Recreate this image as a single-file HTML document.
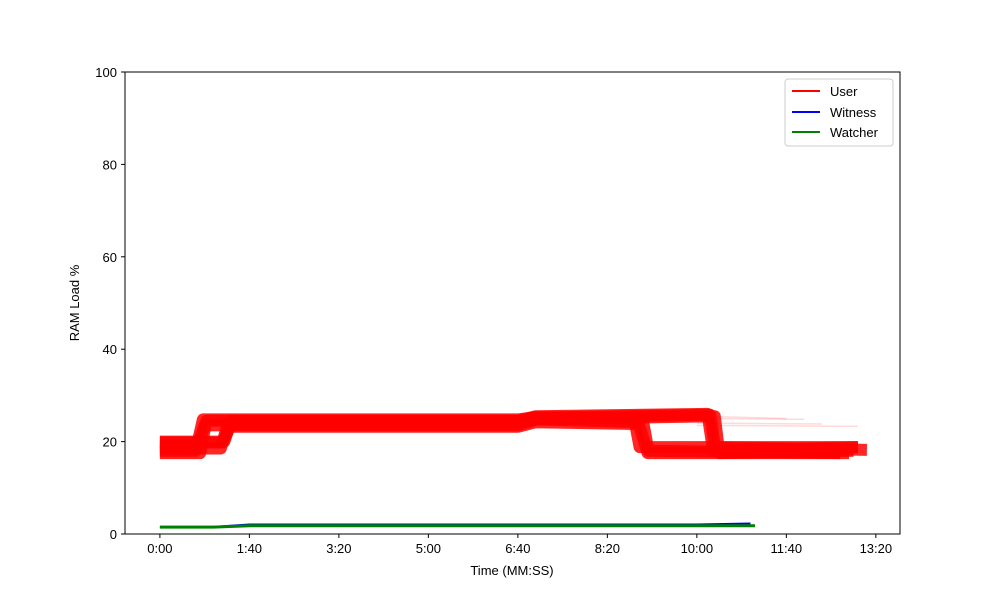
<!DOCTYPE html>
<html><head><meta charset="utf-8"><style>
body{margin:0;background:#fff;font-family:"Liberation Sans","DejaVu Sans",sans-serif}
svg text{font-family:"Liberation Sans","DejaVu Sans",sans-serif;font-size:13px;fill:#000}
</style></head><body>
<svg id="chart" width="1000" height="600" viewBox="0 0 1000 600">
<rect width="1000" height="600" fill="#fff"/>
<g id="plot"></g>
<g id="axes"></g>
<g id="legend">
<rect x="785" y="79" width="108" height="67" fill="#fff" stroke="#ccc" rx="3"/>
<line x1="792" y1="91" x2="820" y2="91" stroke="#f00" stroke-width="2"/>
<text x="830" y="96">User</text>
<line x1="792" y1="112" x2="820" y2="112" stroke="#00f" stroke-width="2"/>
<text x="830" y="117">Witness</text>
<line x1="792" y1="132" x2="820" y2="132" stroke="#008000" stroke-width="2"/>
<text x="830" y="137">Watcher</text>
</g>
</svg>
<script>
const xTicks=[0,100,200,300,400,500,600,700,800];
const xTickLabels=["0:00","1:40","3:20","5:00","6:40","8:20","10:00","11:40","13:20"];
const yTicks=[0,20,40,60,80,100];
const userTimes=[
 [0,40,48,400,420,530,536,780],
 [0,70,78,400,420,535,545,770],
 [0,45,52,400,420,615,620,790],
 [0,72,80,400,420,612,618,780],
 [0,42,50,400,420,540,546,760],
 [0,68,76,400,420,620,625,775]
];
const userValues=[
 [18,18,24.8,24.8,25.3,25,18.8,18.8],
 [19.8,19.8,23.2,23.2,24.2,23.8,17.5,17.5],
 [17.5,17.5,24.5,24.5,25.2,25.8,18.8,18.2],
 [20,20,24.5,24.5,25.5,26,18,18.8],
 [19,19,23.5,23.5,24.8,24.2,18,17.5],
 [18.5,18.5,24,24,24.8,25.5,17.5,18]
];
const faintTimes=[[600,720],[600,740],[600,700],[600,780]];
const faintValues=[[25,24.8],[24,23.8],[25.5,25],[23.5,23.3]];
const witnessTimes=[0,60,100,600,660];
const witnessValues=[1.5,1.5,2,2,2.2];
const watcherTimes=[0,60,100,600,665];
const watcherValues=[1.5,1.5,1.8,1.8,1.8];
const X0=125,X1=900,Y0=534,Y1=72,TMIN=-39,TMAX=827;
const xs=t=>X0+(t-TMIN)/(TMAX-TMIN)*(X1-X0);
const ys=v=>Y0-v/100*(Y0-Y1);
const NS="http://www.w3.org/2000/svg";
const plot=document.getElementById('plot'),axes=document.getElementById('axes');
function mk(tag,attrs,parent){const e=document.createElementNS(NS,tag);for(const k in attrs)e.setAttribute(k,attrs[k]);parent.appendChild(e);return e;}
function pts(ts,vs){return ts.map((t,i)=>xs(t).toFixed(1)+","+ys(vs[i]).toFixed(1)).join(" ");}
faintTimes.forEach((ts,i)=>{
 const p=mk('polyline',{points:pts(ts,faintValues[i]),fill:'none',stroke:'#f00','stroke-width':1.5,'stroke-opacity':0.15},plot);
 
 
});
userTimes.forEach((ts,i)=>{
 const p=mk('polyline',{points:pts(ts,userValues[i]),fill:'none',stroke:'#f00','stroke-width':12,'stroke-opacity':0.85,'stroke-linejoin':'round'},plot);
 
 
});
const w=mk('polyline',{points:pts(witnessTimes,witnessValues),fill:'none',stroke:'#00f','stroke-width':2.5},plot);


const g=mk('polyline',{points:pts(watcherTimes,watcherValues),fill:'none',stroke:'#008000','stroke-width':3},plot);


const fr=mk('rect',{x:X0,y:Y1,width:X1-X0,height:Y0-Y1,fill:'none',stroke:'#000','stroke-width':1},axes);


xTicks.forEach((t,i)=>{
 const x=xs(t);
 const l=mk('line',{x1:x,x2:x,y1:Y0,y2:Y0+4,stroke:'#000'},axes);
 
 
 const tx=mk('text',{x:x,y:Y0+19,'text-anchor':'middle'},axes);tx.textContent=xTickLabels[i];
 
 
});
yTicks.forEach(v=>{
 const y=ys(v);
 const l=mk('line',{x1:X0-4,x2:X0,y1:y,y2:y,stroke:'#000'},axes);
 
 
 const tx=mk('text',{x:X0-8,y:y+5,'text-anchor':'end'},axes);tx.textContent=v;
 
 
});
const xt=mk('text',{x:512,y:575,'text-anchor':'middle'},axes);xt.textContent="Time (MM:SS)";


const yt=mk('text',{x:79,y:303,'text-anchor':'middle',transform:'rotate(-90 79 303)'},axes);yt.textContent="RAM Load %";


</script>
</body></html>
